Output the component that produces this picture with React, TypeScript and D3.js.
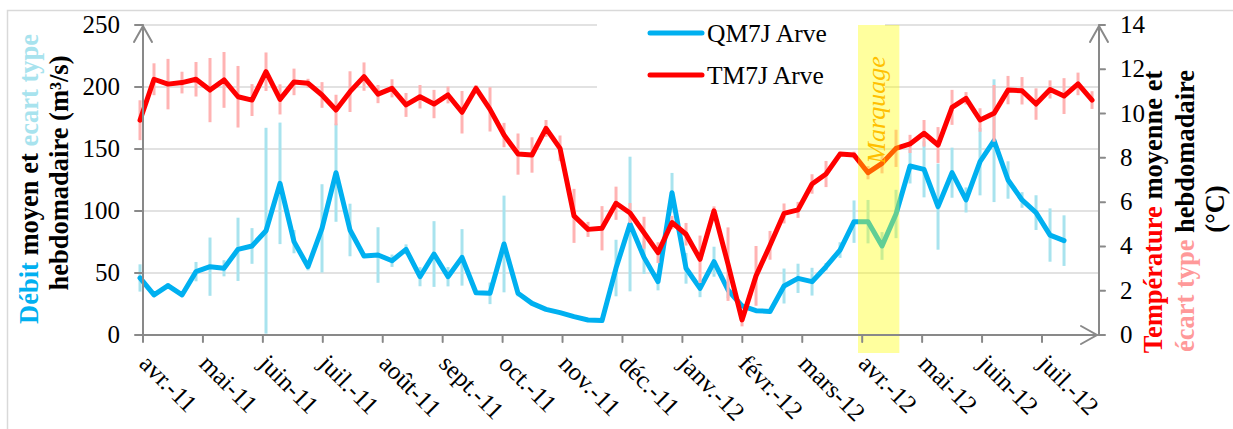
import React from 'react';
import * as d3 from 'd3';

// ---- data ----
const monthLabels = ['avr.-11', 'mai-11', 'juin-11', 'juil.-11', 'août-11', 'sept.-11', 'oct.-11', 'nov.-11', 'déc.-11', 'janv.-12', 'févr.-12', 'mars-12', 'avr.-12', 'mai-12', 'juin-12', 'juil.-12'];

// weekly mean discharge (m3/s) and its standard deviation
const qMean = [46, 32.3, 39.8, 32.3, 51.1, 55.1, 53.8, 69.1, 71.8, 84.1, 122.3, 75.3, 55.1, 86.0, 130.9, 84.7, 63.7, 64.5, 59.9, 69.1, 47.0, 65.3, 47.0, 62.6, 34.1, 33.6, 73.4, 33.6, 25.5, 20.7, 18.0, 14.8, 12.1, 11.6, 54, 89.5, 62.6, 43.0, 114.8, 53.8, 37.6, 59.1, 36.3, 23.4, 19.6, 19.0, 39.5, 45.7, 43.0, 55.1, 68.5, 91.4, 91.4, 71.8, 97.6, 136.3, 133.6, 103.5, 130.9, 108.9, 139.8, 156.7, 125.0, 108.9, 98.7, 80.6, 76.1];
const qSd = [11, 0, 2, 0, 7.8, 23.5, 6.5, 25.5, 14.4, 83, 49, 9.4, 3, 35.6, 39.6, 21.2, 0, 22.4, 5, 4, 7.7, 26.5, 7.8, 22.8, 0, 8.7, 39, 2.4, 0, 0, 0, 0, 0, 0, 22.8, 54.3, 13.4, 7, 15.9, 12.4, 7.1, 12.1, 6.7, 0, 0, 0, 14.1, 11.8, 11.2, 3, 6.3, 17.1, 17.5, 11.2, 19.5, 14.1, 22.6, 34.7, 20.2, 10.1, 27.2, 49.5, 15.1, 6.3, 14, 21.5, 20.4];

// weekly mean temperature (°C) and its standard deviation
const tMean = [9.7, 11.55, 11.33, 11.4, 11.55, 11.06, 11.52, 10.76, 10.61, 11.89, 10.64, 11.43, 11.37, 10.84, 10.16, 10.99, 11.67, 10.88, 11.14, 10.39, 10.76, 10.43, 10.84, 10.06, 11.14, 10.19, 9.03, 8.17, 8.13, 9.33, 8.43, 5.38, 4.77, 4.82, 5.95, 5.51, 4.62, 3.72, 5.08, 4.55, 3.42, 5.61, 3.2, 0.68, 2.67, 4.05, 5.49, 5.65, 6.82, 7.27, 8.17, 8.13, 7.33, 7.75, 8.43, 8.63, 9.11, 8.58, 10.28, 10.69, 9.71, 10.01, 11.06, 11.03, 10.43, 11.09, 10.79, 11.34, 10.61];
const tSd = [0.9, 0.72, 1.14, 0.49, 0.78, 1.45, 1.26, 1.39, 0.72, 0.87, 0.68, 0.6, 0.2, 0.58, 0.69, 0.92, 0.64, 0.41, 0.41, 0.54, 0.53, 0.64, 0.38, 0.96, 0.15, 1.0, 0.55, 0.93, 0.8, 0.38, 0.58, 1.22, 0.34, 1.0, 0.75, 0.45, 0.72, 0.47, 0.3, 0.51, 1.07, 0.2, 1.66, 0.29, 1.35, 0.65, 0.45, 0.36, 0.44, 0.59, 0.1, 0.15, 0.3, 0.45, 0.84, 0.41, 0.6, 0.81, 0.79, 0.28, 0.53, 1.28, 0.64, 0.62, 0.71, 0.41, 0.81, 0.51, 0.4];

const qTicks = [0, 50, 100, 150, 200, 250];
const tTicks = [0, 2, 4, 6, 8, 10, 12, 14];

// time positions expressed in months since avr.-11
const firstWeek = -0.05;
const weekStep = 0.2336;
const marquagePeriod = [11.93, 12.62];

const seriesNames = ['QM7J Arve', 'TM7J Arve'];

// ---- style ----
const FONT = "'Liberation Serif', 'Times New Roman', serif";
const BLUE = '#00b0f0';
const BLUE_SD = '#a8e3ee';
const RED = '#ff0000';
const RED_SD = '#ffb3b3';
const AXIS = '#898989';
const GRID = '#d9d9d9';

export default function App() {
  const W = 1233, H = 429;
  const left = 143, rightAxis = 1099, top = 25, bottom = 335;
  const x = d3.scaleLinear().domain([0, 15]).range([143, 1042]);
  const xEnd = 1097;
  const yQ = d3.scaleLinear().domain([0, 250]).range([bottom, top]);
  const yT = d3.scaleLinear().domain([0, 14]).range([bottom, top]);
  const xi = (i: number) => x(firstWeek + i * weekStep);

  const qLine = d3.line<number>().x((_, i) => xi(i)).y(d => yQ(d));
  const tLine = d3.line<number>().x((_, i) => xi(i)).y(d => yT(d));

  const months = d3.range(monthLabels.length);

  return (
    <svg width={W} height={H} style={{ position: 'absolute', left: 0, top: 0, background: '#fff' }} fontFamily={FONT}>
      <rect x={7.5} y={10.5} width={1240} height={450} fill="#fff" stroke={GRID} strokeWidth={1.5} />
      {/* gridlines */}
      {qTicks.filter(t => t > 0).map(t => (
        <line key={t} x1={left} x2={rightAxis} y1={yQ(t)} y2={yQ(t)} stroke={GRID} strokeWidth={1.6} />
      ))}
      {/* legend background */}
      <rect x={597} y={12} width={288} height={92} fill="#fff" />

      {/* discharge error bars */}
      {qMean.map((m, i) => qSd[i] > 0 ? (
        <line key={'qs' + i} x1={xi(i)} x2={xi(i)} y1={yQ(Math.max(0, m - qSd[i]))} y2={yQ(m + qSd[i])} stroke={BLUE_SD} strokeWidth={3} />
      ) : null)}
      <path d={qLine(qMean) || ''} fill="none" stroke={BLUE} strokeWidth={5} strokeLinejoin="round" strokeLinecap="round" />

      {/* temperature error bars */}
      {tMean.map((m, i) => tSd[i] > 0 ? (
        <line key={'ts' + i} x1={xi(i)} x2={xi(i)} y1={yT(m - tSd[i])} y2={yT(m + tSd[i])} stroke={RED_SD} strokeWidth={3} />
      ) : null)}
      <path d={tLine(tMean) || ''} fill="none" stroke={RED} strokeWidth={5} strokeLinejoin="round" strokeLinecap="round" />

      {/* marquage band */}
      <rect x={x(marquagePeriod[0])} y={top} width={x(marquagePeriod[1]) - x(marquagePeriod[0])} height={353 - top} fill="#ffff00" opacity={0.38} />
      <text transform={`translate(885,110) rotate(-90)`} textAnchor="middle" fontStyle="italic" fontSize={26} fill="#ffc000">Marquage</text>

      {/* axes */}
      <g stroke={AXIS} strokeWidth={2} fill="none" strokeLinecap="round">
        <line x1={left} x2={left} y1={bottom} y2={top + 1} />
        <polyline points={`${left - 9},${top + 17} ${left},${top + 1} ${left + 9},${top + 17}`} />
        <line x1={rightAxis} x2={rightAxis} y1={bottom} y2={top + 1} />
        <polyline points={`${rightAxis - 9},${top + 17} ${rightAxis},${top + 1} ${rightAxis + 9},${top + 17}`} />
        <line x1={left} x2={xEnd} y1={bottom} y2={bottom} />
        <polyline points={`${xEnd - 16},${bottom - 9} ${xEnd},${bottom} ${xEnd - 16},${bottom + 9}`} />
        {qTicks.map(t => <line key={'qt' + t} x1={left - 8} x2={left} y1={yQ(t)} y2={yQ(t)} />)}
        {tTicks.map(t => <line key={'tt' + t} x1={rightAxis} x2={rightAxis + 6} y1={yT(t)} y2={yT(t)} />)}
        {months.map(m => <line key={'mt' + m} x1={x(m)} x2={x(m)} y1={bottom} y2={bottom + 7} />)}
      </g>

      {/* tick labels */}
      {qTicks.map(t => (
        <text key={'ql' + t} x={120} y={yQ(t) + 8} textAnchor="end" fontSize={25} fill="#000">{t}</text>
      ))}
      {tTicks.map(t => (
        <text key={'tl' + t} x={1120} y={yT(t) + 8} textAnchor="start" fontSize={25} fill="#000">{t}</text>
      ))}
      {months.map(m => (
        <text key={'ml' + m} transform={`translate(${x(m) - 5},365) rotate(45)`} fontSize={25} fill="#000">{monthLabels[m]}</text>
      ))}

      {/* left axis title */}
      <text transform="translate(38,179) rotate(-90)" textAnchor="middle" fontWeight="bold" fontSize={26.5}>
        <tspan fill={BLUE}>Débit</tspan><tspan fill="#000"> moyen et </tspan><tspan fill={BLUE_SD}>ecart type</tspan>
      </text>
      <text transform="translate(68,173) rotate(-90)" textAnchor="middle" fontWeight="bold" fontSize={26.5} fill="#000">hebdomadaire (m³/s)</text>

      {/* right axis title */}
      <text transform="translate(1162,212) rotate(-90)" textAnchor="middle" fontWeight="bold" fontSize={26.5}>
        <tspan fill={RED}>Température</tspan><tspan fill="#000"> moyenne et</tspan>
      </text>
      <text transform="translate(1194,211) rotate(-90)" textAnchor="middle" fontWeight="bold" fontSize={26.5}>
        <tspan fill="#ff9999">écart type</tspan><tspan fill="#000"> hebdomadaire</tspan>
      </text>
      <text transform="translate(1224,209) rotate(-90)" textAnchor="middle" fontWeight="bold" fontSize={26.5} fill="#000">(°C)</text>

      {/* legend */}
      <line x1={650} x2={702} y1={33} y2={33} stroke={BLUE} strokeWidth={5} strokeLinecap="round" />
      <text x={707} y={42} fontSize={25.5} fill="#000">{seriesNames[0]}</text>
      <line x1={650} x2={702} y1={75} y2={75} stroke={RED} strokeWidth={5} strokeLinecap="round" />
      <text x={707} y={84} fontSize={25.5} fill="#000">{seriesNames[1]}</text>
    </svg>
  );
}
